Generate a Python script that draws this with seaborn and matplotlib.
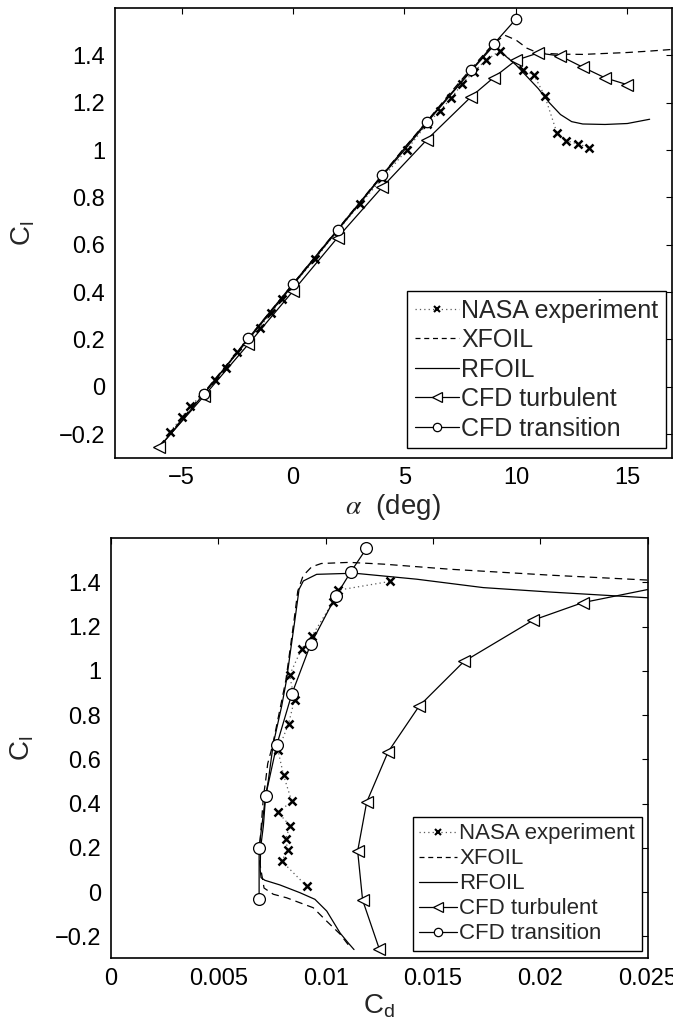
import numpy as np
import pandas as pd
import seaborn as sns
import matplotlib.pyplot as plt
from matplotlib.lines import Line2D

# ---- lift curve data (Cl vs alpha) ----
nasa_alpha = [-5.5, -5.0, -4.6, -4.0, -3.5, -3.0, -2.5, -2.0, -1.5, -1.0, -0.5, 0.0,
              1.0, 2.0, 3.0, 4.0, 5.1, 6.0, 6.6, 7.1, 7.6, 8.1, 8.65, 9.3,
              10.3, 10.8, 11.3, 11.85, 12.25, 12.8, 13.3]
nasa_cl = [-0.19, -0.13, -0.08, -0.03, 0.03, 0.08, 0.145, 0.20, 0.25, 0.31, 0.37, 0.43,
           0.54, 0.66, 0.77, 0.88, 1.0, 1.11, 1.166, 1.22, 1.28, 1.33, 1.379, 1.42,
           1.336, 1.319, 1.227, 1.07, 1.04, 1.025, 1.01]

xfoil_alpha = [-6, -5, -4, -3, -2, -1, 0, 1, 2, 3, 4, 5, 6, 7, 8, 9, 9.5, 10, 10.5,
               11, 12, 13, 14, 15, 16, 17]
xfoil_cl = [-0.25, -0.14, -0.025, 0.09, 0.205, 0.32, 0.435, 0.55, 0.665, 0.78, 0.895,
            1.01, 1.12, 1.235, 1.345, 1.45, 1.485, 1.465, 1.43, 1.41, 1.405, 1.404,
            1.408, 1.412, 1.418, 1.425]

rfoil_alpha = [-6, -5, -4, -3, -2, -1, 0, 1, 2, 3, 4, 5, 6, 7, 8, 9, 9.5, 10, 10.5,
               11, 11.5, 12, 12.5, 13, 14, 15, 16]
rfoil_cl = [-0.255, -0.145, -0.03, 0.085, 0.2, 0.315, 0.43, 0.545, 0.66, 0.775, 0.89,
            1.0, 1.115, 1.225, 1.335, 1.44, 1.40, 1.36, 1.31, 1.26, 1.20, 1.15, 1.12,
            1.11, 1.108, 1.112, 1.13]

turb_alpha = [-6, -4, -2, 0, 2, 4, 6, 8, 9, 10, 11, 12, 13, 14, 15]
turb_cl = [-0.255, -0.04, 0.18, 0.404, 0.63, 0.843, 1.043, 1.226, 1.306, 1.379,
           1.41, 1.397, 1.35, 1.305, 1.276]

trans_alpha = [-4, -2, 0, 2, 4, 6, 8, 9, 10]
trans_cl = [-0.03, 0.205, 0.435, 0.664, 0.894, 1.12, 1.338, 1.447, 1.553]

# ---- drag polar data (Cl vs Cd) ----
nasa_cd_p = [0.00912, 0.00795, 0.00823, 0.00814, 0.00834, 0.00778, 0.00842, 0.00804,
             0.00778, 0.00827, 0.00855, 0.00832, 0.00888, 0.00935, 0.01033, 0.01056, 0.0130]
nasa_cl_p = [0.026, 0.14, 0.19, 0.24, 0.30, 0.36, 0.41, 0.527, 0.64, 0.76, 0.87, 0.98,
             1.10, 1.155, 1.31, 1.364, 1.404]

xfoil_cd_p = [0.01105, 0.01067, 0.01005, 0.00942, 0.00818, 0.00756, 0.00713, 0.00694,
              0.00692, 0.0070, 0.0071, 0.0072, 0.0073, 0.00752, 0.0079, 0.00815, 0.00834,
              0.00853, 0.0087, 0.00895, 0.00935, 0.0098, 0.0111, 0.0127, 0.0158, 0.0205,
              0.025, 0.028]
xfoil_cl_p = [-0.238, -0.19, -0.132, -0.071, -0.026, -0.01, 0.018, 0.127, 0.2, 0.3,
              0.43, 0.5, 0.58, 0.66, 0.84, 0.96, 1.095, 1.23, 1.36, 1.43, 1.47, 1.485,
              1.49, 1.482, 1.459, 1.432, 1.41, 1.40]

rfoil_cd_p = [0.01132, 0.01105, 0.01067, 0.01005, 0.0095, 0.0088, 0.00787, 0.00717,
              0.00699, 0.00695, 0.00697, 0.0071, 0.0072, 0.00733, 0.00756, 0.00795,
              0.00818, 0.00837, 0.00857, 0.00876, 0.00896, 0.00958, 0.01098, 0.01145,
              0.01424, 0.01734, 0.02045, 0.025, 0.030]
rfoil_cl_p = [-0.26, -0.23, -0.185, -0.086, -0.033, -0.003, 0.032, 0.053, 0.065, 0.1,
              0.2, 0.3, 0.43, 0.505, 0.67, 0.84, 0.96, 1.095, 1.232, 1.368, 1.406, 1.436,
              1.44, 1.44, 1.414, 1.376, 1.356, 1.33, 1.30]

turb_cd_p = [0.0125, 0.01172, 0.01149, 0.01191, 0.0129, 0.01435, 0.01644, 0.01967,
             0.02197, 0.0256]
turb_cl_p = [-0.258, -0.036, 0.185, 0.406, 0.632, 0.84, 1.042, 1.229, 1.308, 1.379]

trans_cd_p = [0.0069, 0.0069, 0.0072, 0.00772, 0.00842, 0.0093, 0.01048, 0.01117, 0.0119]
trans_cl_p = [-0.03, 0.20, 0.433, 0.664, 0.894, 1.12, 1.338, 1.447, 1.553]

labels = ["NASA experiment", "XFOIL", "RFOIL", "CFD turbulent", "CFD transition"]

sns.set_style("white")
plt.rcParams['font.family'] = ['Liberation Sans', 'DejaVu Sans']
plt.rcParams['mathtext.fontset'] = 'stix'
plt.rcParams['axes.linewidth'] = 1.2

fig = plt.figure(figsize=(6.73, 10.27), dpi=100)
ax1 = fig.add_axes([0.1704, 0.5543, 0.828, 0.4379])
ax2 = fig.add_axes([0.1649, 0.0668, 0.7975, 0.4093])


def draw(ax, xs, ys, circ_ms):
    (nx, ny), (xx, xy), (rx, ry), (tx, ty), (cx, cy) = list(zip(xs, ys))
    sns.lineplot(x=nx, y=ny, ax=ax, sort=False, estimator=None, color='0.35',
                 linestyle=(0, (1, 2.5)), lw=0.9, marker='x', ms=5.5, mew=1.8,
                 mec='k')
    sns.lineplot(x=xx, y=xy, ax=ax, sort=False, estimator=None, color='k',
                 linestyle=(0, (6, 4)), lw=0.9)
    sns.lineplot(x=rx, y=ry, ax=ax, sort=False, estimator=None, color='k',
                 linestyle='-', lw=0.9)
    sns.lineplot(x=tx, y=ty, ax=ax, sort=False, estimator=None, color='k',
                 linestyle='-', lw=0.9, marker='<', ms=9, mfc='white', mec='k', mew=0.9)
    sns.lineplot(x=cx, y=cy, ax=ax, sort=False, estimator=None, color='k',
                 linestyle='-', lw=0.9, marker='o', ms=circ_ms, mfc='white', mec='k',
                 mew=0.9)


draw(ax1, [nasa_alpha, xfoil_alpha, rfoil_alpha, turb_alpha, trans_alpha],
     [nasa_cl, xfoil_cl, rfoil_cl, turb_cl, trans_cl], 7.5)
draw(ax2, [nasa_cd_p, xfoil_cd_p, rfoil_cd_p, turb_cd_p, trans_cd_p],
     [nasa_cl_p, xfoil_cl_p, rfoil_cl_p, turb_cl_p, trans_cl_p], 8.5)

handles = [
    Line2D([], [], color='0.35', linestyle=(0, (1, 2.5)), lw=0.9, marker='x', ms=4.5,
           mew=1.5, mec='k'),
    Line2D([], [], color='k', linestyle=(0, (4, 3)), lw=0.9),
    Line2D([], [], color='k', linestyle='-', lw=0.9),
    Line2D([], [], color='k', linestyle='-', lw=0.9, marker='<', ms=7, mfc='white',
           mec='k', mew=0.9),
    Line2D([], [], color='k', linestyle='-', lw=0.9, marker='o', ms=6, mfc='white',
           mec='k', mew=0.9),
]

# top: lift curve
ax1.set_xlim(-8, 17)
ax1.set_ylim(-0.3, 1.6)
ax1.set_xticks([-5, 0, 5, 10, 15])
ax1.set_yticks([-0.2, 0, 0.2, 0.4, 0.6, 0.8, 1, 1.2, 1.4])
ax1.set_yticklabels(['\u22120.2', '0', '0.2', '0.4', '0.6', '0.8', '1', '1.2', '1.4'])
ax1.set_xticklabels(['\u22125', '0', '5', '10', '15'])
ax1.set_xlabel(r'$\alpha$  (deg)', fontsize=20, labelpad=2)
ax1.set_ylabel(r'$\mathregular{C_l}$', fontsize=20)
ax1.yaxis.set_label_coords(-0.14, 0.5)
leg1 = ax1.legend(handles, labels, loc='lower right', bbox_to_anchor=(0.989, 0.0216),
                  borderaxespad=0, fontsize=18, handlelength=1.75, handletextpad=0.1,
                  labelspacing=0.22, borderpad=0.3, fancybox=False, framealpha=1,
                  edgecolor='k')
leg1.get_frame().set_linewidth(1.0)

# bottom: drag polar
ax2.set_xlim(0, 0.025)
ax2.set_ylim(-0.3, 1.6)
ax2.set_xticks([0, 0.005, 0.01, 0.015, 0.02, 0.025])
ax2.set_xticklabels(['0', '0.005', '0.01', '0.015', '0.02', '0.025'])
ax2.set_yticks([-0.2, 0, 0.2, 0.4, 0.6, 0.8, 1, 1.2, 1.4])
ax2.set_yticklabels(['\u22120.2', '0', '0.2', '0.4', '0.6', '0.8', '1', '1.2', '1.4'])
ax2.set_xlabel(r'$\mathregular{C_d}$', fontsize=20, labelpad=2)
ax2.set_ylabel(r'$\mathregular{C_l}$', fontsize=20)
ax2.yaxis.set_label_coords(-0.14, 0.5)
leg2 = ax2.legend(handles, labels, loc='lower right', bbox_to_anchor=(0.989, 0.0176),
                  borderaxespad=0, fontsize=16, handlelength=1.7, handletextpad=0.1,
                  labelspacing=0.18, borderpad=0.3, fancybox=False, framealpha=1,
                  edgecolor='k')
leg2.get_frame().set_linewidth(1.0)

for ax in (ax1, ax2):
    ax.tick_params(direction='in', length=4.5, width=0.8, top=True, right=True,
                   labelsize=17, pad=7, colors='k')
    for s in ax.spines.values():
        s.set_color('k')
        s.set_linewidth(1.2)
    ax.grid(False)

fig.savefig('out.png', dpi=100)
